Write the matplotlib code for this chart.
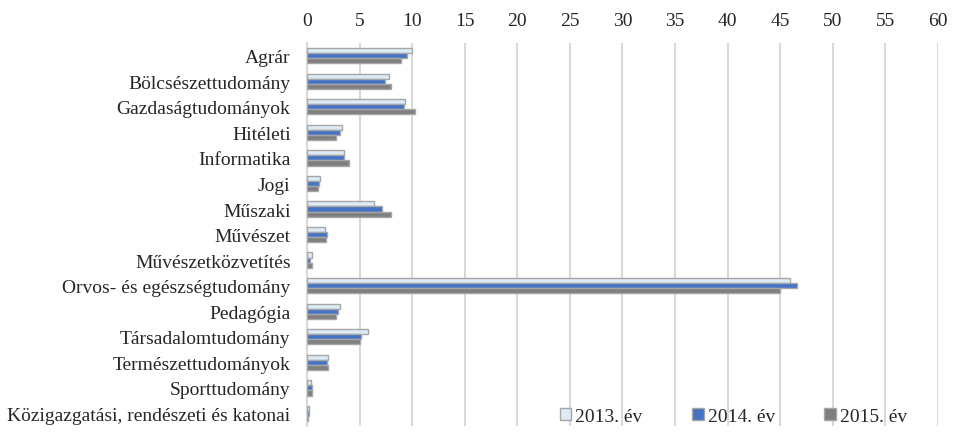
import matplotlib
matplotlib.use("Agg")
import matplotlib.pyplot as plt
import numpy as np

categories = ["Agrár", "Bölcsészettudomány", "Gazdaságtudományok", "Hitéleti",
              "Informatika", "Jogi", "Műszaki", "Művészet", "Művészetközvetítés",
              "Orvos- és egészségtudomány", "Pedagógia", "Társadalomtudomány",
              "Természettudományok", "Sporttudomány",
              "Közigazgatási, rendészeti és katonai"]
v2013 = [10.0, 7.8, 9.3, 3.3, 3.55, 1.25, 6.4, 1.7, 0.45, 45.9, 3.1, 5.8, 2.0, 0.4, 0.2]
v2014 = [9.5, 7.45, 9.25, 3.1, 3.5, 1.15, 7.15, 1.85, 0.25, 46.6, 2.9, 5.1, 1.85, 0.5, 0.15]
v2015 = [8.9, 7.95, 10.3, 2.7, 3.95, 1.0, 8.0, 1.75, 0.45, 45.0, 2.7, 5.05, 2.0, 0.5, 0.1]
series_labels = ["2013. év", "2014. év", "2015. év"]
xticks = list(range(0, 61, 5))

plt.rcParams['font.family'] = ['Liberation Serif', 'DejaVu Serif']

fig = plt.figure(figsize=(9.54, 4.35), dpi=100)
ax = fig.add_axes([0.322, 0.018, 0.661, 0.881])

y = np.arange(len(categories))
h = 0.2
colors = ["#DDEBF7", "#4472C4", "#7F7F7F"]
for i, (vals, lab, c) in enumerate(zip([v2013, v2014, v2015], series_labels, colors)):
    ax.barh(y + (i - 1) * h, vals, height=h, color=c, edgecolor="#A6A6A6",
            linewidth=1.0, label=lab, zorder=3)

ax.set_xlim(0, 60)
ax.set_ylim(len(categories) - 0.5, -0.5)
ax.set_xticks(xticks)
ax.set_yticks(y)
ax.set_yticklabels(categories, fontsize=14, color="#262626")
ax.xaxis.tick_top()
ax.tick_params(axis="x", length=0, labelsize=14, pad=10, colors="#262626")
ax.tick_params(axis="y", length=0, pad=12)
ax.grid(axis="x", color="#D9D9D9", linewidth=1.5, zorder=0)
for s in ["top", "right", "bottom"]:
    ax.spines[s].set_visible(False)
ax.spines["left"].set_color("#D9D9D9")
ax.spines["left"].set_linewidth(1.5)

leg = ax.legend(loc="lower right", bbox_to_anchor=(0.9636, -0.017), ncol=3, frameon=False,
                fontsize=14, handlelength=0.6, handleheight=0.6, handletextpad=0.2,
                columnspacing=2.55, borderaxespad=0)
for t in leg.get_texts():
    t.set_color("#262626")

fig.savefig("out.png", dpi=100)
